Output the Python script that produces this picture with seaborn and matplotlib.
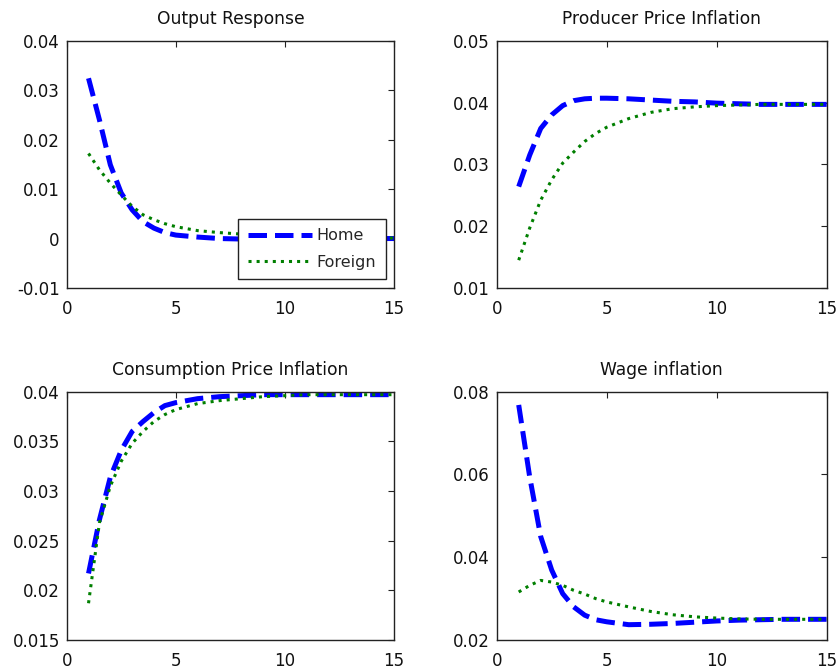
import numpy as np
import pandas as pd
import matplotlib
matplotlib.use("Agg")
import matplotlib.pyplot as plt
import seaborn as sns

# Horizon (quarters after the shock)
periods = [1, 1.5, 2, 2.5, 3, 3.5, 4, 4.5, 5, 6, 7, 8, 9, 10, 11, 12, 13, 14, 15]

# Output response
output_home = [0.0324, 0.0240, 0.0149, 0.0092, 0.0058, 0.0034, 0.0021, 0.0012, 0.0007,
               0.0003, 0.0000, -0.0001, -0.0001, 0.0000, 0.0000, 0.0000, 0.0000, 0.0000, 0.0000]
output_foreign = [0.0172, 0.0139, 0.0112, 0.0088, 0.0065, 0.0048, 0.0038, 0.0030, 0.0024,
                  0.0016, 0.0012, 0.0009, 0.0006, 0.0004, 0.0003, 0.0002, 0.0001, 0.0001, 0.0001]

# Producer price inflation
ppi_home = [0.0264, 0.0315, 0.0358, 0.0380, 0.0395, 0.0403, 0.0406, 0.0407, 0.0407,
            0.0406, 0.0404, 0.0402, 0.0401, 0.0399, 0.0398, 0.0397, 0.0397, 0.0397, 0.0397]
ppi_foreign = [0.0145, 0.0197, 0.0242, 0.0275, 0.0302, 0.0320, 0.0337, 0.0350, 0.0360,
               0.0374, 0.0384, 0.0390, 0.0393, 0.0395, 0.0396, 0.0397, 0.0397, 0.0397, 0.0397]

# Consumption price inflation
cpi_home = [0.0217, 0.0271, 0.0314, 0.0341, 0.0360, 0.0370, 0.0379, 0.0386, 0.0389,
            0.0393, 0.0395, 0.0396, 0.0397, 0.0397, 0.0397, 0.0397, 0.0397, 0.0397, 0.0397]
cpi_foreign = [0.0187, 0.0268, 0.0305, 0.0330, 0.0348, 0.0360, 0.0370, 0.0377, 0.0382,
               0.0388, 0.0391, 0.0393, 0.0395, 0.0396, 0.0397, 0.0397, 0.0397, 0.0397, 0.0397]

# Wage inflation
wage_home = [0.0768, 0.0594, 0.0450, 0.0369, 0.0312, 0.0280, 0.0260, 0.0249, 0.0244,
             0.0237, 0.0238, 0.0240, 0.0243, 0.0246, 0.0248, 0.0249, 0.0250, 0.0250, 0.0250]
wage_foreign = [0.0316, 0.0332, 0.0344, 0.0340, 0.0332, 0.0320, 0.0311, 0.0300, 0.0292,
                0.0280, 0.0269, 0.0261, 0.0256, 0.0253, 0.0251, 0.0250, 0.0250, 0.0250, 0.0250]

titles = ["Output Response", "Producer Price Inflation",
          "Consumption Price Inflation", "Wage inflation"]
series_names = ["Home", "Foreign"]

x_ticks = [0, 5, 10, 15]
x_ticklabels = ["0", "5", "10", "15"]
y_ticks = [
    [-0.01, 0, 0.01, 0.02, 0.03, 0.04],
    [0.01, 0.02, 0.03, 0.04, 0.05],
    [0.015, 0.02, 0.025, 0.03, 0.035, 0.04],
    [0.02, 0.04, 0.06, 0.08],
]
y_ticklabels = [
    ["-0.01", "0", "0.01", "0.02", "0.03", "0.04"],
    ["0.01", "0.02", "0.03", "0.04", "0.05"],
    ["0.015", "0.02", "0.025", "0.03", "0.035", "0.04"],
    ["0.02", "0.04", "0.06", "0.08"],
]

panels = [
    (output_home, output_foreign),
    (ppi_home, ppi_foreign),
    (cpi_home, cpi_foreign),
    (wage_home, wage_foreign),
]

sns.set_style("white")
plt.rcParams["font.family"] = ["DejaVu Sans"]

fig = plt.figure(figsize=(8.37, 6.71), dpi=100)

W, H = 837, 671
boxes = [  # left, top, right, bottom in pixels
    (66.7, 40.7, 394.0, 288.0),
    (496.7, 40.7, 826.7, 288.0),
    (66.7, 391.7, 394.0, 640.0),
    (496.7, 391.7, 826.7, 640.0),
]

home_color = "#0000ff"
foreign_color = "#007f00"

for i, (home, foreign) in enumerate(panels):
    l, t, r, b = boxes[i]
    ax = fig.add_axes([l / W, 1 - b / H, (r - l) / W, (b - t) / H])
    df = pd.DataFrame({"t": periods, "Home": home, "Foreign": foreign})
    sns.lineplot(data=df, x="t", y="Home", ax=ax, color=home_color,
                 linestyle="--", linewidth=3.6, label=series_names[0], legend=False)
    sns.lineplot(data=df, x="t", y="Foreign", ax=ax, color=foreign_color,
                 linestyle=":", linewidth=2.2, label=series_names[1], legend=False)
    ax.set_xlim(0, 15)
    ax.set_ylim(y_ticks[i][0], y_ticks[i][-1])
    ax.set_xticks(x_ticks)
    ax.set_xticklabels(x_ticklabels)
    ax.set_yticks(y_ticks[i])
    ax.set_yticklabels(y_ticklabels[i])
    ax.set_xlabel("")
    ax.set_ylabel("")
    ax.tick_params(direction="in", top=True, right=True, length=4, width=0.8,
                   labelsize=12, colors="#222222", labelcolor="#111111")
    ax.tick_params(axis="x", pad=8.5)
    ax.tick_params(axis="y", pad=5)
    for sp in ax.spines.values():
        sp.set_visible(True)
        sp.set_color("#222222")
        sp.set_linewidth(1.0)
    ax.set_title(titles[i], fontsize=12.3, pad=12, color="#111111")
    if i == 0:
        leg = ax.legend(loc="lower right", bbox_to_anchor=(0.975, 0.036),
                        fancybox=False, framealpha=1, edgecolor="#222222",
                        fontsize=11.5, handlelength=4.0, borderpad=0.6,
                        labelspacing=0.7, handletextpad=0.3, borderaxespad=0)
        leg.get_frame().set_linewidth(1.0)

fig.savefig("out.png", dpi=100, facecolor="white")
